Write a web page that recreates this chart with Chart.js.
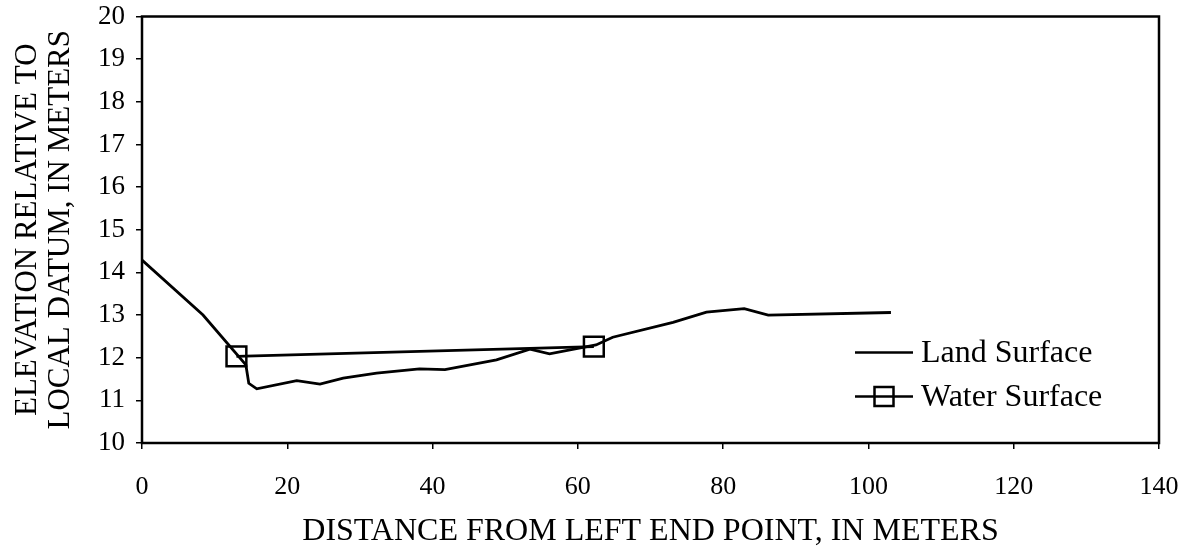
<!DOCTYPE html>
<html>
<head>
<meta charset="utf-8">
<title>Cross section</title>
<script src="https://cdn.jsdelivr.net/npm/chart.js@4.4.0/dist/chart.umd.min.js"></script>
<style>
  html, body { margin: 0; padding: 0; background: #fff; }
  #chart { display: block; }
</style>
</head>
<body>
<canvas id="chart" width="1190" height="552"></canvas>
<script>
// land surface profile
const landX = [0, 8.4, 14.3, 14.7, 15.8, 21.3, 24.5, 27.7, 32.3, 38.2, 41.7, 48.8, 53.4, 56.1, 60.7, 62.5, 64.8, 73.1, 77.7, 82.9, 86.2, 103.1];
const landY = [14.29, 13.0, 11.83, 11.4, 11.27, 11.46, 11.38, 11.52, 11.64, 11.74, 11.72, 11.95, 12.2, 12.09, 12.24, 12.3, 12.48, 12.83, 13.07, 13.15, 13.0, 13.06];

// water surface, two measured points
const waterX = [13.0, 62.2];
const waterY = [12.03, 12.26];

const seriesNames = ['Land Surface', 'Water Surface'];
const xTitle = 'DISTANCE FROM LEFT END POINT, IN METERS';
const yTitle = ['ELEVATION RELATIVE TO', 'LOCAL DATUM, IN METERS'];

const serif = '"Liberation Serif", "Times New Roman", serif';

function toPoints(xs, ys) {
  return xs.map(function(x, i) { return { x: x, y: ys[i] }; });
}

// frame around the plot + legend inside the plot
const boxAndLegend = {
  id: 'boxAndLegend',
  beforeDraw: function(chart) {
    const c = chart.ctx;
    c.save();
    c.fillStyle = '#fff';
    c.fillRect(0, 0, chart.width, chart.height);
    c.restore();
  },
  afterDraw: function(chart) {
    const c = chart.ctx;
    const a = chart.chartArea;
    c.save();
    c.strokeStyle = '#000';
    c.lineWidth = 2.5;
    c.strokeRect(a.left, a.top, a.right - a.left, a.bottom - a.top);

    const x0 = a.right - 304, x1 = a.right - 246, tx = a.right - 238;
    const rows = [a.top + 336, a.top + 380];
    c.font = '32px ' + serif;
    c.fillStyle = '#000';
    c.textBaseline = 'middle';
    chart.data.datasets.forEach(function(ds, i) {
      const y = rows[i];
      c.beginPath();
      c.lineWidth = 2.5;
      c.moveTo(x0, y);
      c.lineTo(x1, y);
      c.stroke();
      if (ds.pointRadius > 0) {
        const s = 19, cx = (x0 + x1) / 2;
        c.strokeRect(cx - s / 2, y - s / 2, s, s);
      }
      c.fillText(ds.label, tx, y + 1);
    });
    c.restore();
  }
};

const chart = new Chart(document.getElementById('chart'), {
  type: 'scatter',
  data: {
    datasets: [{
      label: seriesNames[0],
      data: toPoints(landX, landY),
      showLine: true,
      borderColor: '#000',
      borderWidth: 2.8,
      pointRadius: 0,
      tension: 0
    }, {
      label: seriesNames[1],
      data: toPoints(waterX, waterY),
      showLine: true,
      borderColor: '#000',
      borderWidth: 2.8,
      pointStyle: 'rect',
      pointRadius: 14,
      pointBorderWidth: 2.5,
      pointBorderColor: '#000',
      pointBackgroundColor: 'rgba(0,0,0,0)',
      tension: 0
    }]
  },
  options: {
    responsive: false,
    devicePixelRatio: 1,
    animation: false,
    layout: { padding: { top: 16, right: 31, left: 0, bottom: 0 } },
    plugins: {
      legend: { display: false },
      tooltip: { enabled: false }
    },
    scales: {
      x: {
        type: 'linear',
        min: 0,
        max: 140,
        afterFit: function(s) {
          s.height = 109;
          s.paddingLeft = 0; s.paddingRight = 0;
        },
        ticks: { stepSize: 20, color: '#000', padding: 23, maxRotation: 0,
                 font: { family: serif, size: 26 } },
        grid: { drawOnChartArea: false, drawTicks: true, tickLength: 6, color: '#000', lineWidth: 1.5 },
        border: { display: false },
        title: { display: true, text: xTitle, color: '#000',
                 font: { family: serif, size: 32, lineHeight: 1.2 },
                 padding: { top: 0, bottom: 1 } }
      },
      y: {
        type: 'linear',
        min: 10,
        max: 20,
        afterFit: function(s) {
          s.width = 142;
          s.paddingTop = 0; s.paddingBottom = 0;
        },
        ticks: { stepSize: 1, color: '#000', padding: 11,
                 font: { family: serif, size: 27 } },
        grid: { drawOnChartArea: false, drawTicks: true, tickLength: 6, color: '#000', lineWidth: 1.5 },
        border: { display: false },
        title: { display: true, text: yTitle, color: '#000',
                 font: { family: serif, size: 31, lineHeight: 1.08 },
                 padding: { top: 11, bottom: 0 } }
      }
    }
  },
  plugins: [boxAndLegend]
});
</script>
</body>
</html>
